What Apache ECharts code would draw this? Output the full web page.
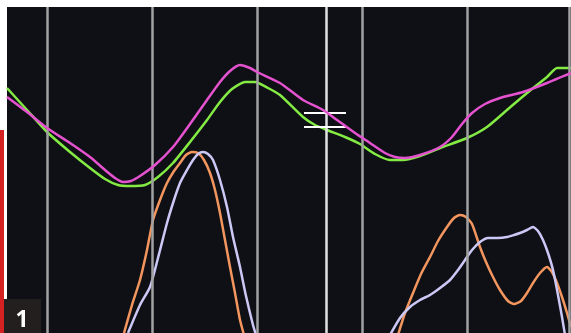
<!DOCTYPE html>
<html>
<head>
<meta charset="utf-8">
<style>
  html, body { margin: 0; padding: 0; background: #ffffff; }
  #chart { width: 571px; height: 333px; }
</style>
<script src="https://cdn.jsdelivr.net/npm/echarts@6/dist/echarts.min.js"></script>
</head>
<body>
<div id="chart"></div>
<script>
// Time positions of the reference lines (same units as the x axis)
const gridTimes = [40, 145, 250, 355, 460, 562];
const centreTime = 319;

// Cursor marker: horizontal position, half width, and the two levels it marks
const markerTime = 318;
const markerHalfWidth = 21;
const markerLevels = [220, 206];

// Upper pair of traces [time, level]
const magentaTrace = [
  [0, 236], [20, 221], [40, 205], [63, 190], [83, 176], [98, 163], [108, 155],
  [116, 151], [124, 152], [133, 157], [148, 168], [166, 186], [183, 209], [200, 233],
  [213, 251], [223, 262], [233, 268], [243, 265], [250, 261], [273, 250], [296, 233],
  [316, 223], [330, 213], [348, 200], [363, 190], [378, 180], [388, 176], [398, 175],
  [413, 178], [433, 186], [445, 196], [455, 209], [465, 220], [478, 229], [493, 235],
  [516, 241], [540, 250], [564, 260]
];
const greenTrace = [
  [0, 245], [20, 223], [40, 201], [63, 181], [83, 165], [98, 154], [111, 148],
  [123, 147], [138, 148], [151, 156], [166, 170], [183, 191], [200, 213], [213, 231],
  [225, 244], [238, 251], [248, 251], [261, 245], [273, 238], [296, 216], [308, 208],
  [320, 203], [338, 196], [353, 189], [368, 179], [383, 173], [396, 173], [413, 177],
  [433, 185], [460, 195], [480, 206], [500, 223], [520, 240], [540, 256], [550, 265],
  [564, 265]
];

// Lower pair of traces (two bursts each)
const orangeTrace = [
  [117, 0], [125, 28], [133, 53], [140, 83], [146, 113], [153, 133], [160, 150],
  [167, 162], [173, 170], [179, 178], [185, 181], [191, 180], [197, 173], [203, 160],
  [208, 143], [213, 120], [218, 93], [223, 66], [228, 40], [233, 13], [237, -2],
  null,
  [391, -2], [398, 20], [406, 40], [414, 59], [423, 76], [431, 92], [440, 106],
  [447, 115], [453, 118], [459, 116], [465, 109], [473, 86], [479, 71], [486, 56],
  [493, 43], [501, 32], [507, 29], [514, 32], [520, 40], [526, 50], [533, 60],
  [540, 66], [545, 61], [550, 50], [555, 36], [560, 20], [564, 6]
];
const lavenderTrace = [
  [121, 0], [133, 28], [143, 46], [151, 75], [160, 110], [167, 133], [173, 150],
  [180, 163], [186, 173], [191, 179], [196, 181], [201, 179], [206, 173], [213, 153],
  [220, 126], [226, 96], [233, 66], [239, 37], [246, 8], [249, -2],
  null,
  [383, -2], [393, 15], [403, 26], [413, 33], [423, 38], [433, 45], [443, 53],
  [451, 63], [458, 73], [465, 83], [473, 91], [481, 95], [491, 95], [500, 96],
  [507, 98], [513, 100], [520, 103], [526, 106], [531, 102], [536, 93], [541, 80],
  [546, 63], [551, 38], [555, 16], [558, -2]
];

const chart = echarts.init(document.getElementById('chart'), null, { renderer: 'canvas' });

function trace(name, data, color, z) {
  return {
    name: name,
    type: 'line',
    data: data,
    smooth: 0.2,
    symbol: 'none',
    connectNulls: false,
    clip: true,
    z: z,
    lineStyle: { color: color, width: 2.5 },
    silent: true
  };
}

chart.setOption({
  animation: false,
  backgroundColor: '#ffffff',
  grid: {
    left: 7, top: 7, right: 0, bottom: 0,
    show: true, backgroundColor: '#0e1015', borderWidth: 0
  },
  xAxis: {
    type: 'value', min: 0, max: 564, show: false,
    splitLine: { show: false }
  },
  yAxis: {
    type: 'value', min: 0, max: 326, show: false,
    splitLine: { show: false }
  },
  series: [
    {
      name: 'grid',
      type: 'line',
      data: [],
      z: 1,
      markLine: {
        silent: true,
        symbol: 'none',
        label: { show: false },
        animation: false,
        data: gridTimes.map(t => ({ xAxis: t, lineStyle: { color: '#a2a2a2', width: 2.5, type: 'solid' } }))
          .concat([{ xAxis: centreTime, lineStyle: { color: '#e2e2e2', width: 2.5, type: 'solid' } }])
      }
    },
    trace('orange', orangeTrace, '#f2955e', 3),
    trace('lavender', lavenderTrace, '#cbc8f6', 3),
    trace('green', greenTrace, '#84ea44', 4),
    trace('magenta', magentaTrace, '#e552cf', 5),
    {
      name: 'marker',
      type: 'line',
      data: [],
      z: 6,
      markLine: {
        silent: true,
        symbol: 'none',
        label: { show: false },
        animation: false,
        lineStyle: { color: '#ffffff', width: 2, type: 'solid' },
        data: markerLevels.map(v => [
          { coord: [markerTime - markerHalfWidth, v] },
          { coord: [markerTime + markerHalfWidth, v] }
        ])
      }
    }
  ],
  graphic: [
    { type: 'rect', shape: { x: 0, y: 130, width: 4, height: 203 }, style: { fill: '#d42222' }, z: 10 },
    { type: 'rect', shape: { x: 4, y: 299, width: 37, height: 34 }, style: { fill: '#231f1e' }, z: 10 },
    {
      type: 'text', x: 22, y: 320, z: 11,
      style: {
        text: '1', fill: '#ffffff', font: 'bold 23px "Open Sans", "DejaVu Sans", sans-serif',
        align: 'center', verticalAlign: 'middle'
      }
    }
  ]
});
</script>
</body>
</html>
